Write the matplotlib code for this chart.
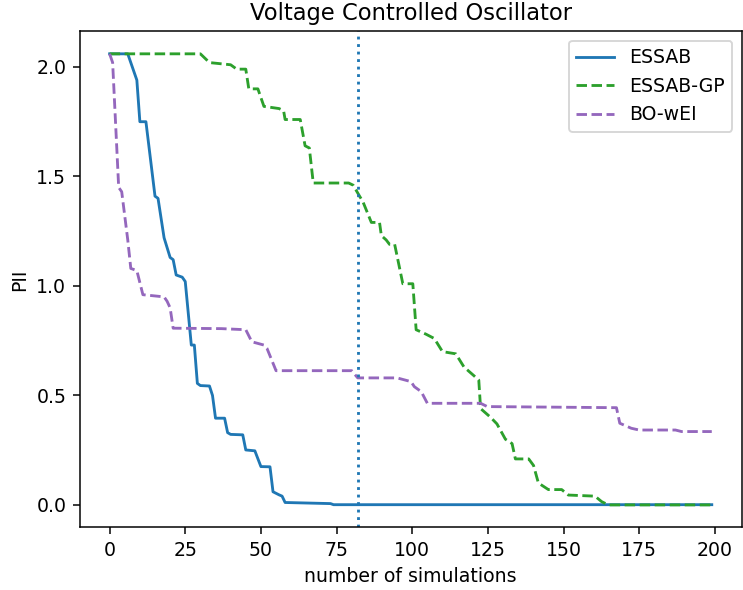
import matplotlib
matplotlib.use('Agg')
import matplotlib.pyplot as plt

# values (simulation index, PII)
essab_x = [0, 6, 9, 10, 12, 15, 16, 18, 20, 21, 22, 24, 25, 27, 28, 29, 30, 33, 34, 35, 38, 39, 40, 44, 45, 48,
           50, 53, 54, 56, 57, 58, 67, 73, 74, 199]
essab_y = [2.06, 2.06, 1.94, 1.75, 1.75, 1.41, 1.40, 1.22, 1.13, 1.12, 1.05, 1.04, 1.02, 0.73, 0.73, 0.555, 0.545,
           0.543, 0.50, 0.396, 0.396, 0.33, 0.322, 0.32, 0.251, 0.247, 0.175, 0.174, 0.06, 0.046, 0.04, 0.011,
           0.008, 0.006, 0.001, 0.001]

gp_x = [0, 30, 33, 40, 42, 45, 46, 49, 51, 56, 57.5, 58, 63, 64.6, 66, 67.3, 79, 80.5, 82.6, 83.7, 86.5, 89.2,
        89.8, 91.4, 92.5, 94.2, 96.9, 100.2, 101.3, 104.5, 107.3, 110, 114.4, 117.1, 120.4, 122, 122.6, 125.9,
        128, 130.8, 133, 134.1, 138.5, 140.1, 141.7, 145, 149.4, 151.6, 160.4, 162.6, 164.8, 199]
gp_y = [2.06, 2.06, 2.02, 2.01, 1.99, 1.99, 1.90, 1.90, 1.82, 1.81, 1.80, 1.76, 1.76, 1.64, 1.63, 1.47, 1.47,
        1.46, 1.41, 1.385, 1.29, 1.29, 1.23, 1.21, 1.19, 1.19, 1.01, 1.01, 0.80, 0.78, 0.76, 0.70, 0.69, 0.63,
        0.59, 0.57, 0.44, 0.40, 0.37, 0.30, 0.28, 0.21, 0.21, 0.18, 0.10, 0.07, 0.07, 0.045, 0.04, 0.015, 0.0, 0.0]

bo_x = [0, 1, 3, 4, 6, 7, 9, 11, 18, 19, 20, 21, 37, 45, 47, 51, 52, 55, 80, 82, 95, 99.6, 100.7, 103, 105,
        122.6, 124.8, 167.5, 168.6, 172.4, 175, 187, 189, 199]
bo_y = [2.06, 2.02, 1.45, 1.43, 1.21, 1.08, 1.07, 0.96, 0.95, 0.93, 0.90, 0.807, 0.805, 0.80, 0.745, 0.73,
        0.715, 0.613, 0.613, 0.58, 0.58, 0.563, 0.54, 0.517, 0.464, 0.464, 0.449, 0.444, 0.373, 0.35, 0.342,
        0.342, 0.335, 0.335]

best_iter = 82

dpi = 136
fig = plt.figure(figsize=(743 / dpi, 590 / dpi), dpi=dpi)
ax = fig.add_axes([0.107, 0.106, 0.8915, 0.841])

ax.plot(essab_x, essab_y, color='tab:blue', linestyle='-', label='ESSAB')
ax.plot(gp_x, gp_y, color='tab:green', linestyle='--', label='ESSAB-GP')
ax.plot(bo_x, bo_y, color='tab:purple', linestyle='--', label='BO-wEI')
ax.axvline(best_iter, color='tab:blue', linestyle=':')

ax.set_title('Voltage Controlled Oscillator')
ax.set_xlabel('number of simulations')
ax.set_ylabel('PII')
ax.legend(loc='upper right')

fig.savefig('out.png', dpi=dpi)
